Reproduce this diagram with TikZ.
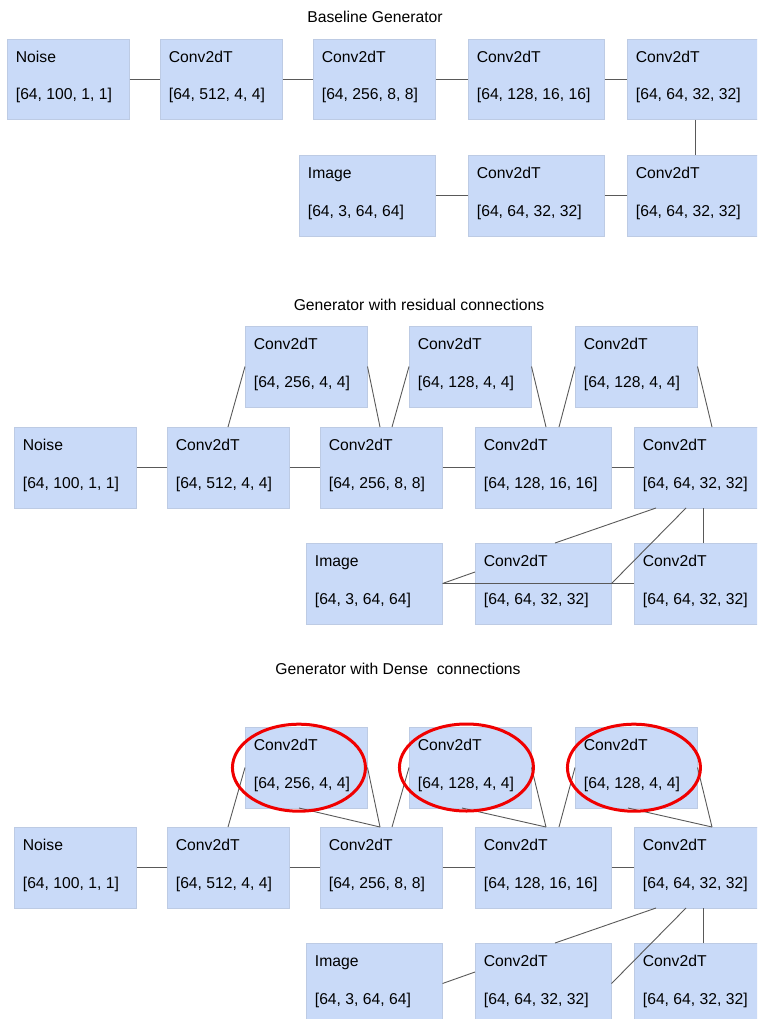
\documentclass[tikz,border=0pt]{standalone}
\usepackage{fontspec}
\setmainfont{Liberation Sans}
\usetikzlibrary{calc}
\definecolor{boxfill}{HTML}{C9DAF8}
\definecolor{boxedge}{HTML}{BDCBE4}
\definecolor{wire}{HTML}{595959}
\definecolor{ring}{HTML}{F00000}
\tikzset{
  blk/.style={rectangle, fill=boxfill, draw=boxedge, line width=0.5pt, inner sep=0pt, minimum height=80.5pt, anchor=north west},
  txt/.style={anchor=base west, inner sep=0pt, font=\fontsize{15.7}{18}\selectfont},
  ttl/.style={anchor=base, inner sep=0pt, font=\fontsize{15.7}{18}\selectfont},
  wireline/.style={draw=wire, line width=0.9pt},
  redring/.style={draw=ring, line width=3pt}
}
\newcommand\blk[6]{%
  \node[blk, minimum width=#4pt] (#1) at (#2,#3) {};
  \node[txt] (#1t) at ($(#1.north west)+(8.7,23.6)$) {#5};
  \node[txt] (#1d) at ($(#1.north west)+(8.7,61)$) {#6};
}
\begin{document}
\begin{tikzpicture}[x=1pt,y=-1pt]
\clip (0,0) rectangle (757,1019);
% ---------------- Baseline ----------------
\node[ttl] (title1) at (375,22.3) {Baseline Generator};
\blk{b0}{7}{39}{122}{Noise}{[64, 100, 1, 1]}
\blk{b1}{160}{39}{122}{Conv2dT}{[64, 512, 4, 4]}
\blk{b2}{313}{39}{122}{Conv2dT}{[64, 256, 8, 8]}
\blk{b3}{468}{39}{136}{Conv2dT}{[64, 128, 16, 16]}
\blk{b4}{627}{39}{136}{Conv2dT}{[64, 64, 32, 32]}
\blk{b5}{627}{155}{136}{Conv2dT}{[64, 64, 32, 32]}
\blk{b6}{468}{155}{136}{Conv2dT}{[64, 64, 32, 32]}
\blk{b7}{299}{155}{136}{Image}{[64, 3, 64, 64]}
\draw[wireline] (b0.east) -- (b1.west);
\draw[wireline] (b1.east) -- (b2.west);
\draw[wireline] (b2.east) -- (b3.west);
\draw[wireline] (b3.east) -- (b4.west);
\draw[wireline] (b4.south) -- (b5.north);
\draw[wireline] (b5.west) -- (b6.east);
\draw[wireline] (b6.west) -- (b7.east);
% ---------------- Residual ----------------
\node[ttl] (title2) at (419,310) {Generator with residual connections};
\blk{s1}{245}{326}{122}{Conv2dT}{[64, 256, 4, 4]}
\blk{s2}{409}{326}{122}{Conv2dT}{[64, 128, 4, 4]}
\blk{s3}{575}{326}{122}{Conv2dT}{[64, 128, 4, 4]}
\blk{r0}{14}{427}{122}{Noise}{[64, 100, 1, 1]}
\blk{r1}{167}{427}{122}{Conv2dT}{[64, 512, 4, 4]}
\blk{r2}{320}{427}{122}{Conv2dT}{[64, 256, 8, 8]}
\blk{r3}{475}{427}{136}{Conv2dT}{[64, 128, 16, 16]}
\blk{r4}{634}{427}{136}{Conv2dT}{[64, 64, 32, 32]}
\blk{r5}{306}{543}{136}{Image}{[64, 3, 64, 64]}
\blk{r6}{475}{543}{136}{Conv2dT}{[64, 64, 32, 32]}
\blk{r7}{634}{543}{136}{Conv2dT}{[64, 64, 32, 32]}
\draw[wireline] (r0.east) -- (r1.west);
\draw[wireline] (r1.east) -- (r2.west);
\draw[wireline] (r2.east) -- (r3.west);
\draw[wireline] (r3.east) -- (r4.west);
\draw[wireline] ($(r1.north west)+(61,0)$) -- (s1.west);
\draw[wireline] (s1.east) -- ($(r2.north west)+(60,0)$);
\draw[wireline] ($(r2.north west)+(72,0)$) -- (s2.west);
\draw[wireline] (s2.east) -- ($(r3.north west)+(71,0)$);
\draw[wireline] ($(r3.north west)+(84,0)$) -- (s3.west);
\draw[wireline] (s3.east) -- ($(r4.north west)+(78,0)$);
\draw[wireline] ($(r4.south west)+(22,0)$) -- ($(r6.north west)+(80,0)$);
\draw[wireline] ($(r4.south west)+(52,0)$) -- (r6.east);
\draw[wireline] ($(r4.south west)+(69,0)$) -- ($(r7.north west)+(69,0)$);
\draw[wireline] (r5.east) -- (r7.west);
\draw[wireline] ($(r6.north west)+(0,29)$) -- (r5.east);
% ---------------- Dense ----------------
\node[ttl] (title3) at (398,674.3) {Generator with Dense\ \ connections};
\blk{t1}{245}{727}{122}{Conv2dT}{[64, 256, 4, 4]}
\blk{t2}{409}{727}{122}{Conv2dT}{[64, 128, 4, 4]}
\blk{t3}{575}{727}{122}{Conv2dT}{[64, 128, 4, 4]}
\blk{d0}{14}{827}{122}{Noise}{[64, 100, 1, 1]}
\blk{d1}{167}{827}{122}{Conv2dT}{[64, 512, 4, 4]}
\blk{d2}{320}{827}{122}{Conv2dT}{[64, 256, 8, 8]}
\blk{d3}{475}{827}{136}{Conv2dT}{[64, 128, 16, 16]}
\blk{d4}{634}{827}{136}{Conv2dT}{[64, 64, 32, 32]}
\blk{d5}{306}{943}{136}{Image}{[64, 3, 64, 64]}
\blk{d6}{475}{943}{136}{Conv2dT}{[64, 64, 32, 32]}
\blk{d7}{634}{943}{136}{Conv2dT}{[64, 64, 32, 32]}
\draw[wireline] (d0.east) -- (d1.west);
\draw[wireline] (d1.east) -- (d2.west);
\draw[wireline] (d2.east) -- (d3.west);
\draw[wireline] (d3.east) -- (d4.west);
\draw[wireline] ($(d1.north west)+(61,0)$) -- (t1.west);
\draw[wireline] (t1.east) -- ($(d2.north west)+(60,0)$);
\draw[wireline] ($(t1.south west)+(54,0)$) -- ($(d2.north west)+(60,0)$);
\draw[wireline] ($(d2.north west)+(72,0)$) -- (t2.west);
\draw[wireline] (t2.east) -- ($(d3.north west)+(71,0)$);
\draw[wireline] ($(t2.south west)+(53,0)$) -- ($(d3.north west)+(71,0)$);
\draw[wireline] ($(d3.north west)+(84,0)$) -- (t3.west);
\draw[wireline] (t3.east) -- ($(d4.north west)+(78,0)$);
\draw[wireline] ($(t3.south west)+(53,0)$) -- ($(d4.north west)+(78,0)$);
\draw[wireline] ($(d4.south west)+(22,0)$) -- ($(d6.north west)+(80,0)$);
\draw[wireline] ($(d4.south west)+(52,0)$) -- (d6.east);
\draw[wireline] ($(d4.south west)+(69,0)$) -- ($(d7.north west)+(69,0)$);
\draw[wireline] ($(d6.north west)+(0,29)$) -- (d5.east);
\draw[redring] ($(t1.center)+(-7.3,0.2)$) ellipse [x radius=66.5, y radius=43.5];
\draw[redring] ($(t2.center)+(-3.8,0)$) ellipse [x radius=67, y radius=43.5];
\draw[redring] ($(t3.center)+(-2.3,0.2)$) ellipse [x radius=66.5, y radius=43.5];
\end{tikzpicture}
\end{document}
